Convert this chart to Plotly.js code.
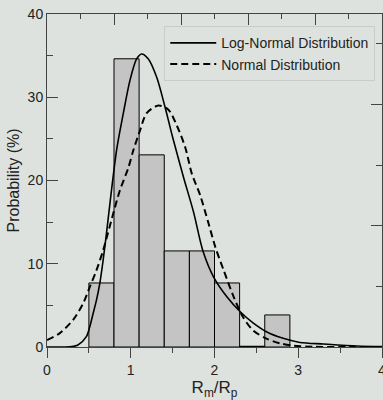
<!DOCTYPE html>
<html>
<head>
<meta charset="utf-8">
<script src="https://cdn.plot.ly/plotly-3.0.1.min.js"></script>
<style>html,body{margin:0;padding:0;background:#dee2de;}#chart{width:383px;height:400px;}</style>
</head>
<body>
<div id="chart"></div>
<script>
// Histogram bins (R_m/R_p) and probabilities (%)
const binCenters = [0.65, 0.95, 1.25, 1.55, 1.85, 2.15, 2.45, 2.75];
const binWidth = 0.3;
const probabilities = [7.69, 34.62, 23.08, 11.54, 11.54, 7.69, 0, 3.85];

// Log-normal fit curve
const logNormX = [0, 0.2, 0.3, 0.37, 0.47, 0.51, 0.55, 0.59, 0.63, 0.67, 0.70, 0.83, 0.91, 0.99, 1.07, 1.13, 1.21, 1.31, 1.41, 1.50, 1.63, 1.75, 1.86, 1.99, 2.15, 2.31, 2.46, 2.62, 2.82, 3.02, 3.30, 3.70, 4.0];
const logNormY = [0, 0, 0.05, 0.24, 1.24, 2.4, 4.0, 5.6, 7.6, 10.4, 12.8, 23.6, 28.0, 32.0, 34.6, 35.2, 34.6, 32.4, 28.8, 25.2, 20.4, 16.2, 11.6, 8.4, 6.0, 4.2, 2.9, 1.84, 1.04, 0.55, 0.36, 0.12, 0.05];

// Normal fit curve
const normX = [0, 0.15, 0.31, 0.43, 0.51, 0.59, 0.67, 0.79, 0.87, 0.97, 1.03, 1.11, 1.19, 1.33, 1.45, 1.55, 1.65, 1.73, 1.83, 1.93, 2.01, 2.11, 2.23, 2.34, 2.46, 2.62, 2.78, 2.94, 3.2, 3.6, 4.0];
const normY = [0.84, 1.64, 3.24, 5.2, 7.2, 9.2, 11.6, 16.0, 18.8, 21.5, 23.6, 26.0, 28.1, 29.0, 28.5, 26.6, 24.0, 20.8, 18.2, 14.8, 12.0, 9.2, 6.0, 3.6, 2.0, 1.0, 0.44, 0.16, 0.03, 0, 0];

const seriesNames = ['Log-Normal Distribution', 'Normal Distribution'];

const bg = '#dee2de';
const axColor = '#444';
const fontFam = 'Liberation Sans, Arial, sans-serif';

// zero-height bins drawn as a line at the base
const zeroX = [], zeroY = [];
probabilities.forEach((p, i) => {
  if (p === 0) {
    zeroX.push(binCenters[i] - binWidth / 2, binCenters[i] + binWidth / 2, null);
    zeroY.push(0, 0, null);
  }
});

const traces = [
  {
    type: 'bar', x: binCenters, y: probabilities, width: binWidth,
    marker: {
      color: 'white',
      line: {color: '#000', width: 1},
      pattern: {shape: '.', size: 2, solidity: 0.5, fgcolor: '#7a7a7a', bgcolor: '#fff', fillmode: 'replace'}
    },
    showlegend: false, hoverinfo: 'skip'
  },
  {
    type: 'scatter', mode: 'lines', x: zeroX, y: zeroY,
    line: {color: '#000', width: 2.5}, showlegend: false, hoverinfo: 'skip', cliponaxis: false
  },
  {
    type: 'scatter', mode: 'lines', x: logNormX, y: logNormY, name: seriesNames[0],
    line: {color: '#000', width: 1.6, shape: 'spline', smoothing: 0.8}
  },
  {
    type: 'scatter', mode: 'lines', x: normX, y: normY, name: seriesNames[1],
    line: {color: '#000', width: 2, dash: '7px,4px', shape: 'spline', smoothing: 0.8}
  },
  // invisible trace to host the mirrored top / right axes
  {type: 'scatter', x: [0], y: [0], xaxis: 'x2', yaxis: 'y2', mode: 'none', showlegend: false, hoverinfo: 'skip'}
];

const layout = {
  width: 383, height: 400,
  margin: {l: 47, r: 1, t: 14, b: 53},
  paper_bgcolor: bg, plot_bgcolor: bg,
  font: {family: fontFam, size: 14, color: '#222'},
  showlegend: true,
  legend: {
    x: 0.35, y: 0.963, xanchor: 'left', yanchor: 'top',
    bgcolor: 'rgba(0,0,0,0)', bordercolor: '#c9cdc9', borderwidth: 1,
    font: {family: fontFam, size: 14, color: '#222'},
    itemwidth: 46, tracegroupgap: 0
  },
  xaxis: {
    range: [0, 4], tick0: 0, dtick: 1,
    ticks: 'outside', ticklen: 10, tickwidth: 1, tickcolor: axColor,
    minor: {dtick: 0.5, ticks: 'outside', ticklen: 5, tickwidth: 1, tickcolor: axColor},
    showline: true, linecolor: axColor, linewidth: 1,
    showgrid: false, zeroline: false, automargin: false,
    ticklabeloverflow: 'allow',
    tickfont: {family: fontFam, size: 14, color: '#222'},
    title: {text: 'R<sub>m</sub>/R<sub>p</sub>', font: {family: fontFam, size: 17, color: '#222'}, standoff: 4}
  },
  yaxis: {
    range: [0, 40], tick0: 0, dtick: 10,
    ticks: 'inside', ticklen: 11, tickwidth: 1, tickcolor: axColor,
    minor: {dtick: 5, ticks: 'inside', ticklen: 6, tickwidth: 1, tickcolor: axColor},
    showline: true, linecolor: axColor, linewidth: 1,
    showgrid: false, zeroline: false, automargin: false,
    ticklabeloverflow: 'allow',
    tickfont: {family: fontFam, size: 14, color: '#222'},
    title: {text: 'Probability (%)', font: {family: fontFam, size: 16, color: '#222'}, standoff: 4}
  },
  xaxis2: {
    overlaying: 'x', side: 'top', range: [0, 4], tick0: 0, dtick: 0.8,
    ticks: 'inside', ticklen: 11, tickwidth: 1, tickcolor: axColor,
    minor: {dtick: 0.4, ticks: 'inside', ticklen: 5, tickwidth: 1, tickcolor: axColor},
    showline: true, linecolor: axColor, linewidth: 1,
    showticklabels: false, showgrid: false, zeroline: false
  },
  yaxis2: {
    overlaying: 'y', side: 'right', range: [0, 40], tick0: 0, dtick: 14.56,
    ticks: 'inside', ticklen: 11, tickwidth: 1, tickcolor: axColor,
    minor: {dtick: 7.28, ticks: 'inside', ticklen: 6, tickwidth: 1, tickcolor: axColor},
    showline: true, linecolor: axColor, linewidth: 1,
    showticklabels: false, showgrid: false, zeroline: false
  },
  bargap: 0
};

Plotly.newPlot('chart', traces, layout, {staticPlot: true, displayModeBar: false});
</script>
</body>
</html>
